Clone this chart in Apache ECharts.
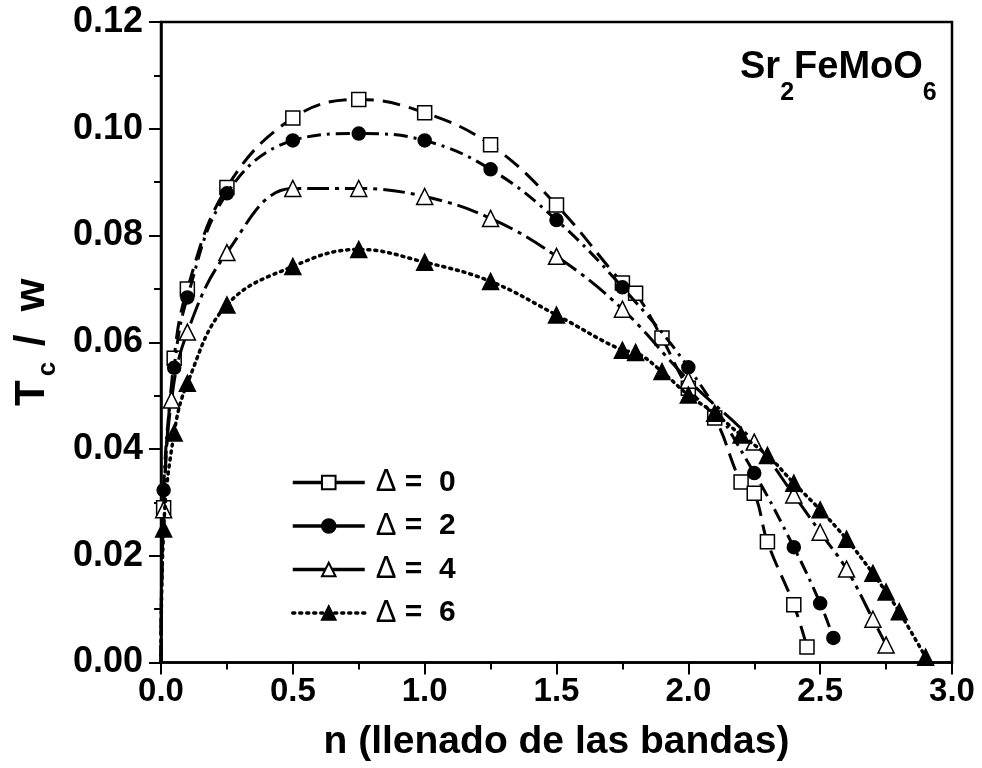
<!DOCTYPE html>
<html>
<head>
<meta charset="utf-8">
<script src="https://cdn.jsdelivr.net/npm/echarts@6/dist/echarts.min.js"></script>
<style>
html,body{margin:0;padding:0;background:#fff;}
#chart{width:982px;height:768px;}
</style>
</head>
<body>
<div id="chart"></div>
<script>
// ---- data ----
const seriesNames = ['Δ = 0', 'Δ = 2', 'Δ = 4', 'Δ = 6'];

const nD0 = [0, 0.01, 0.05, 0.1, 0.25, 0.5, 0.75, 1.0, 1.25, 1.5, 1.75, 1.8, 1.9, 2.0, 2.1, 2.2, 2.25, 2.3, 2.4, 2.45];
const tD0 = [0, 0.029, 0.057, 0.070, 0.089, 0.102, 0.1055, 0.103, 0.097, 0.0857, 0.0711, 0.0692, 0.0608, 0.0514, 0.0458, 0.0338, 0.0317, 0.0226, 0.0108, 0.0029];

const nD2 = [0, 0.01, 0.05, 0.1, 0.25, 0.5, 0.75, 1.0, 1.25, 1.5, 1.75, 2.0, 2.25, 2.4, 2.5, 2.55];
const tD2 = [0, 0.0323, 0.0552, 0.0684, 0.0879, 0.0978, 0.0991, 0.0978, 0.0924, 0.0829, 0.0703, 0.0553, 0.0355, 0.0216, 0.0111, 0.0046];

const nD4 = [0, 0.01, 0.04, 0.1, 0.25, 0.5, 0.75, 1.0, 1.25, 1.5, 1.75, 2.0, 2.25, 2.4, 2.5, 2.6, 2.7, 2.75];
const tD4 = [0, 0.0286, 0.0492, 0.0619, 0.0768, 0.0888, 0.0888, 0.0873, 0.0832, 0.0761, 0.0662, 0.0529, 0.0413, 0.0314, 0.0244, 0.0175, 0.0081, 0.0033];

const nD6 = [0, 0.01, 0.05, 0.1, 0.25, 0.5, 0.75, 1.0, 1.25, 1.5, 1.75, 1.8, 1.9, 2.0, 2.1, 2.2, 2.3, 2.4, 2.5, 2.6, 2.7, 2.75, 2.8, 2.9];
const tD6 = [0, 0.025, 0.043, 0.0523, 0.067, 0.0742, 0.0774, 0.075, 0.0714, 0.0651, 0.0585, 0.0581, 0.0545, 0.0501, 0.0467, 0.0426, 0.0388, 0.0336, 0.0286, 0.0231, 0.0167, 0.0132, 0.0095, 0.001];

const xTicks = [0, 0.5, 1.0, 1.5, 2.0, 2.5, 3.0];
const yTicks = [0, 0.02, 0.04, 0.06, 0.08, 0.10, 0.12];

// ---- styles ----
const markers = [
  {symbol: 'rect', size: 14, fill: '#fff'},
  {symbol: 'circle', size: 13, fill: '#000'},
  {symbol: 'triangle', size: 16, fill: '#fff'},
  {symbol: 'triangle', size: 16, fill: '#000'}
];
const dashes = [[18, 9], [14, 6, 3, 6], [22, 6, 4, 6], [2, 5]];
const xs = [nD0, nD2, nD4, nD6];
const ys = [tD0, tD2, tD4, tD6];

function makePoints(n, t) {
  return n.map((x, i) => (x === 0 ? {value: [x, t[i]], symbol: 'none'} : [x, t[i]]));
}

const series = seriesNames.map((name, k) => ({
  name: name,
  type: 'line',
  data: makePoints(xs[k], ys[k]),
  smooth: 0.4,
  symbol: markers[k].symbol,
  symbolSize: markers[k].size,
  showAllSymbol: true,
  itemStyle: {color: markers[k].fill, borderColor: '#000', borderWidth: 1.5},
  lineStyle: {color: '#000', width: k === 3 ? 3.5 : 3, type: dashes[k], cap: k === 3 ? 'round' : 'butt'},
  emphasis: {disabled: true},
  z: 2 + k
}));

const chart = echarts.init(document.getElementById('chart'), null, {renderer: 'canvas'});
chart.setOption({
  animation: false,
  backgroundColor: '#fff',
  grid: {left: 161, right: 30, top: 22, bottom: 105.5, outerBoundsMode: 'none', containLabel: false,
    show: true, borderColor: '#000', borderWidth: 2.5, backgroundColor: 'transparent'},
  title: {
    text: '{a|Sr}{s|2}{a|FeMoO}{s|6}',
    left: 740, top: 49,
    padding: 0,
    textStyle: {
      rich: {
        a: {fontFamily: 'Liberation Sans', fontWeight: 'bold', fontSize: 38, color: '#000', verticalAlign: 'top', lineHeight: 40},
        s: {fontFamily: 'Liberation Sans', fontWeight: 'bold', fontSize: 25, color: '#000', verticalAlign: 'bottom', lineHeight: 57}
      }
    }
  },
  legend: {
    orient: 'vertical',
    left: 286, top: 462,
    itemWidth: 72, itemHeight: 17, itemGap: 12.5,
    data: seriesNames.map((n, k) => ({name: n, lineStyle: {type: k === 3 ? [2, 5] : 'solid', width: 3.5, cap: k === 3 ? 'round' : 'butt'}})),
    formatter: function (name) { return '{d|Δ}{e| =  ' + name.split('= ')[1] + '}'; },
    textStyle: {
      lineHeight: 30,
      rich: {
        d: {fontFamily: 'Liberation Sans', fontWeight: 'normal', fontSize: 31, color: '#000', padding: [0, 0, 0, 6]},
        e: {fontFamily: 'Liberation Sans', fontWeight: 'bold', fontSize: 30, color: '#000'}
      }
    }
  },
  xAxis: {
    type: 'value', min: 0, max: 3, interval: 0.5,
    name: 'n (llenado de las bandas)',
    nameLocation: 'middle', nameGap: 60,
    nameTextStyle: {fontFamily: 'Liberation Sans', fontWeight: 'bold', fontSize: 39, color: '#000'},
    axisLine: {lineStyle: {color: '#000', width: 2.5}},
    axisTick: {inside: false, length: 12, lineStyle: {color: '#000', width: 2}},
    minorTick: {show: true, splitNumber: 2, length: 7, lineStyle: {color: '#000', width: 2}},
    splitLine: {show: false},
    axisLabel: {margin: 13, fontFamily: 'Liberation Sans', fontWeight: 'bold', fontSize: 33, color: '#000',
      formatter: v => xTicks.includes(v) ? v.toFixed(1) : ''}
  },
  yAxis: {
    type: 'value', min: 0, max: 0.12, interval: 0.02,
    name: '{t|T}{s|c}{t| /  w}',
    nameLocation: 'middle', nameGap: 100, nameRotate: 90,
    nameTextStyle: {
      rich: {
        t: {fontFamily: 'Liberation Sans', fontWeight: 'bold', fontSize: 42, color: '#000', verticalAlign: 'top', lineHeight: 43},
        s: {fontFamily: 'Liberation Sans', fontWeight: 'bold', fontSize: 26, color: '#000', verticalAlign: 'bottom', lineHeight: 50, padding: [0, 4, 0, 4]}
      }
    },
    axisLine: {lineStyle: {color: '#000', width: 2.5}},
    axisTick: {inside: false, length: 12, lineStyle: {color: '#000', width: 2}},
    minorTick: {show: true, splitNumber: 2, length: 7, lineStyle: {color: '#000', width: 2}},
    splitLine: {show: false},
    axisLabel: {margin: 18, fontFamily: 'Liberation Sans', fontWeight: 'bold', fontSize: 36, color: '#000',
      formatter: v => yTicks.some(t => Math.abs(t - v) < 1e-9) ? v.toFixed(2) : ''}
  },
  series: series
});
</script>
</body>
</html>
